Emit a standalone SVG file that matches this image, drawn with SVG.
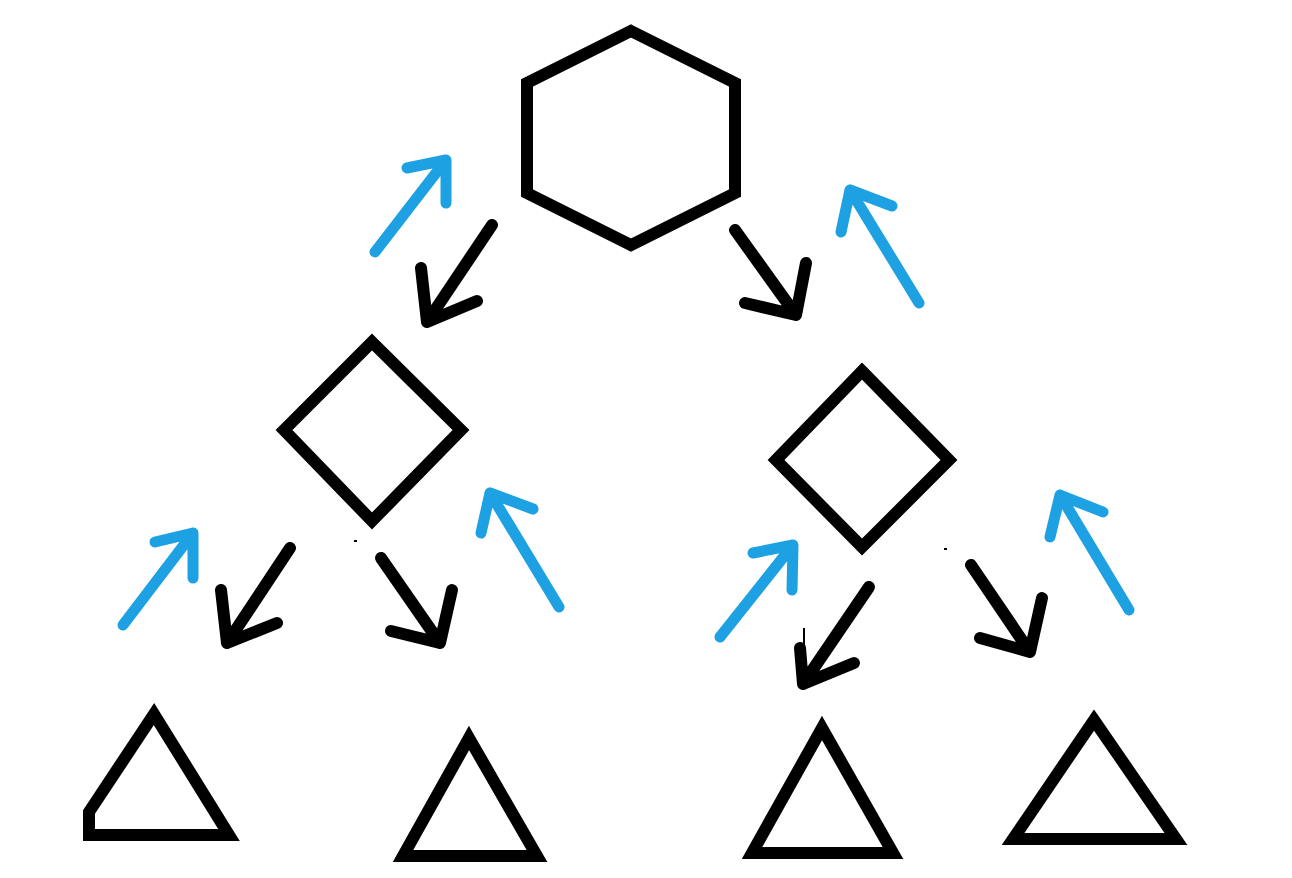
<svg xmlns="http://www.w3.org/2000/svg" width="1292" height="878" viewBox="0 0 1292 878">
<style>
.shape{fill:none;stroke:#000;stroke-width:12;stroke-linejoin:miter}
.down{fill:none;stroke:#000;stroke-width:12;stroke-linecap:round;stroke-linejoin:round}
.up{fill:none;stroke:#1ea1e3;stroke-width:11;stroke-linecap:round;stroke-linejoin:round}
</style>
<rect width="1292" height="878" fill="#fff"/>
<g id="hexagon"><polygon class="shape" points="631,31 735,83 735,193 631,245 527,193 527,83"/></g>
<g id="diamond-left"><polygon class="shape" points="372,342 461,430 372,521 284,430"/></g>
<g id="diamond-right"><polygon class="shape" points="862,371 949,460 862,547 776,460"/></g>
<g id="triangle-1"><path class="shape" d="M89,812 L154,714 L229,835 L89,835 Z"/></g>
<g id="triangle-2"><polygon class="shape" points="469,738 537,856 403,856"/></g>
<g id="triangle-3"><polygon class="shape" points="822,728 893,853 752,853"/></g>
<g id="triangle-4"><polygon class="shape" points="1094,720 1176,839 1013,839"/></g>
<g id="connectors">
<path class="down" d="M492,225 L427,322 M421,268 L427,322 L477,301"/>
<path class="down" d="M735,230 L796,315 M806,263 L796,315 L745,303"/>
<path class="down" d="M290,548 L227,643 M221,590 L227,643 L277,623"/>
<path class="down" d="M381,558 L440,643 M452,590 L440,643 L391,631"/>
<path class="down" d="M869,587 L803,684 M800,648 L803,684 L854,663"/>
<path d="M804,628 L804,660" stroke="#000" stroke-width="2" fill="none"/>
<path class="down" d="M971,565 L1030,652 M1042,598 L1030,652 L980,638"/>
<path class="up" d="M375,252 L446,160 M407,168 L446,160 L446,203"/>
<path class="up" d="M919,303 L850,190 M892,206 L850,190 L841,232"/>
<path class="up" d="M123,625 L193,533 M155,542 L193,533 L193,578"/>
<path class="up" d="M559,607 L490,493 M533,509 L490,493 L481,533"/>
<path class="up" d="M720,637 L793,545 M753,553 L793,545 L792,590"/>
<path class="up" d="M1129,610 L1060,495 M1103,512 L1060,495 L1050,537"/>
</g>
<rect x="354" y="540" width="3" height="2" fill="#000"/>
<rect x="944" y="548" width="3" height="2" fill="#000"/>
</svg>
